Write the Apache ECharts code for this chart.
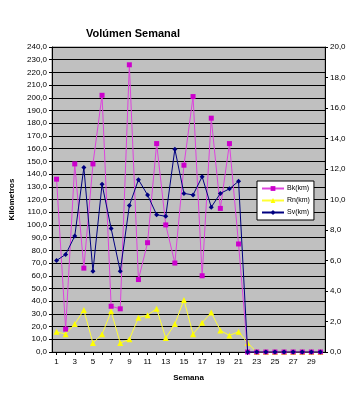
<!DOCTYPE html>
<html><head><meta charset="utf-8">
<script src="https://cdn.jsdelivr.net/npm/echarts@6/dist/echarts.min.js"></script>
<style>html,body{margin:0;padding:0;background:#fff}#c{width:360px;height:400px}</style>
</head><body><div id="c"></div>
<script>
const weeks = Array.from({length:30},(_, i)=>String(i+1));
const bk = [136,18,148,66,148,202,36,34,226,57,86,164,100,70,147,201,60,184,113,164,85,0,0,0,0,0,0,0,0,0];
const rn = [16,14,22,33,7,14,32,7,10,27,29,34,11,22,41,14,23,31,17,13,16,7,0,0,0,0,0,0,0,0];
const sv = [6.0,6.4,7.6,12.1,5.3,11.0,8.1,5.3,9.6,11.3,10.3,9.0,8.9,13.3,10.4,10.3,11.5,9.5,10.4,10.7,11.2,0,0,0,0,0,0,0,0,0];
const fmt = v => v.toFixed(1).replace('.', ',');
const font = 'Liberation Sans, Arial, sans-serif';
const chart = echarts.init(document.getElementById('c'), null, {renderer:'canvas'});
chart.setOption({
  animation:false,
  backgroundColor:'#fff',
  title:{text:'Volúmen Semanal', left:128, top:23, textAlign:'center',
    textStyle:{fontFamily:font, fontSize:11, fontWeight:'bold', color:'#000'}},
  grid:{left:49, right:35, top:47, bottom:48, show:true, backgroundColor:'#c0c0c0', borderColor:'#808080', borderWidth:1},
  legend:{orient:'vertical', left:257, top:181, itemWidth:22, itemHeight:6, itemGap:5,
    backgroundColor:'#fff', borderColor:'#000', borderWidth:1, padding:[4,4,4,4],
    textStyle:{fontFamily:font, fontSize:7, color:'#000', padding:[0,0,0,-2]},
    data:['Bk(km)','Rn(km)','Sv(km)']},
  xAxis:{type:'category', data:weeks, boundaryGap:true,
    name:'Semana', nameLocation:'middle', nameGap:22,
    nameTextStyle:{fontFamily:font, fontSize:8, fontWeight:'bold', color:'#000'},
    axisLine:{lineStyle:{color:'#000'}}, axisTick:{show:true, alignWithLabel:true, length:3, interval:0, lineStyle:{color:'#000'}},
    axisLabel:{interval:1, fontFamily:font, fontSize:8, color:'#000', margin:6},
    splitLine:{show:false}},
  yAxis:[
    {type:'value', min:0, max:240, interval:10,
      name:'Kilómetros', nameLocation:'middle', nameGap:36, nameRotate:90,
      nameTextStyle:{fontFamily:font, fontSize:8, fontWeight:'bold', color:'#000'},
      axisLine:{show:true, lineStyle:{color:'#000'}}, axisTick:{show:true, length:3, lineStyle:{color:'#000'}},
      axisLabel:{formatter:fmt, fontFamily:font, fontSize:8, color:'#000', margin:5},
      splitLine:{show:true, lineStyle:{color:'#000', width:1}}},
    {type:'value', min:0, max:20, interval:2, position:'right',
      axisLine:{show:true, lineStyle:{color:'#000'}}, axisTick:{show:true, length:3, lineStyle:{color:'#000'}},
      axisLabel:{formatter:fmt, fontFamily:font, fontSize:8, color:'#000', margin:5},
      splitLine:{show:false}}
  ],
  series:[
    {name:'Bk(km)', type:'line', data:bk, yAxisIndex:0, symbol:'rect', symbolSize:5, showAllSymbol:true,
      lineStyle:{color:'#dd44dd', width:1}, itemStyle:{color:'#cc00cc'}, z:3},
    {name:'Rn(km)', type:'line', data:rn, yAxisIndex:0, symbol:'triangle', symbolSize:6, showAllSymbol:true,
      lineStyle:{color:'#ffff33', width:1}, itemStyle:{color:'#ffff00'}, z:2},
    {name:'Sv(km)', type:'line', data:sv, yAxisIndex:1, symbol:'diamond', symbolSize:5, showAllSymbol:true,
      lineStyle:{color:'#000080', width:1}, itemStyle:{color:'#000080'}, z:4}
  ]
});
</script></body></html>
